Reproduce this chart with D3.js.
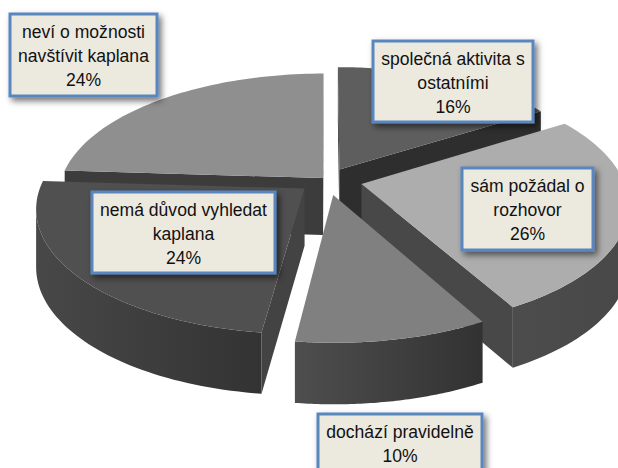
<!DOCTYPE html>
<html><head><meta charset="utf-8">
<script src="https://cdnjs.cloudflare.com/ajax/libs/d3/7.8.5/d3.min.js"></script>
<style>html,body{margin:0;padding:0;background:#fff;overflow:hidden}svg{display:block}
text{font-family:"Liberation Sans",Arial,sans-serif;fill:#111}</style></head><body>
<svg id="c" width="618" height="468"></svg>
<script>
const categories=["společná aktivita s ostatními","sám požádal o rozhovor","dochází pravidelně","nemá důvod vyhledat kaplana","neví o možnosti navštívit kaplana"];
const values=[16,26,10,24,24];
const labelLines=[["společná aktivita s","ostatními"],["sám požádal o","rozhovor"],["dochází pravidelně"],["nemá důvod vyhledat","kaplana"],["neví o možnosti","navštívit kaplana"]];
const explode=[0.1,0.135,0.124,0.11,0.022];
const topColors=["#5e5e5e","#adadad","#808080","#505050","#8f8f8f"];
const cutColors=["#2e2e2e","#484848","#3c3c3c","#434343","#3c3c3c"];
const wallColors=[["#333","#333"],["#4c4c4c","#484848"],["#4e4e4e","#323232"],["#484848","#333333"],["#3c3c3c","#3c3c3c"]];
const drawOrder=[4,0,1,3,2];
const boxes=[[373,41,160,81],[462,168,131,82],[318,414,164,60],[92,192,183,81],[10,14,147,82]];

const svg=d3.select("#c");
const defs=svg.append("defs");
const fl=defs.append("filter").attr("id","sh").attr("x","-20%").attr("y","-20%").attr("width","140%").attr("height","140%");
fl.append("feDropShadow").attr("dx",3).attr("dy",3.5).attr("stdDeviation",3).attr("flood-color","#000").attr("flood-opacity",.55);

const sx=d3.scaleLinear().domain([-1,1]).range([327-262,327+262]);
const sy=d3.scaleLinear().domain([-1,1]).range([180-120.7,180+120.7]);
const k=0.15;
function proj(u,v,down){
  const f=1/(1-k*v);
  return [sx(0)+(sx(u)-sx(0))*f, sy(0)+(sy(v)-sy(0))*f+(down?57+4*v:0)];
}
const arcs=d3.pie().sort(null).value(d=>d)(values);
const line=d3.line();
arcs.forEach((a,i)=>{
  const mid=(a.startAngle+a.endAngle)/2, e=explode[i];
  const ox=e*Math.sin(mid), oy=-e*Math.cos(mid);
  const angs=d3.range(0,61).map(j=>a.startAngle+(a.endAngle-a.startAngle)*j/60);
  a.rim=down=>angs.map(t=>proj(ox+Math.sin(t),oy-Math.cos(t),down));
  a.apex=down=>proj(ox,oy,down);
});
const g=svg.append("g");
drawOrder.forEach(i=>{
  const a=arcs[i], rimT=a.rim(false), rimB=a.rim(true), apT=a.apex(false), apB=a.apex(true);
  const last=rimT.length-1;
  const xs=rimT.map(p=>p[0]);
  const grad=defs.append("linearGradient").attr("id","w"+i).attr("gradientUnits","userSpaceOnUse")
    .attr("x1",d3.min(xs)).attr("x2",d3.max(xs)).attr("y1",0).attr("y2",0);
  grad.append("stop").attr("offset",0).attr("stop-color",wallColors[i][0]);
  grad.append("stop").attr("offset",1).attr("stop-color",wallColors[i][1]);
  const sl=g.append("g");
  // outer wall: the run of the rim that faces the viewer (x falling as the angle grows)
  const run=d3.range(0,last+1).filter(j=>(j<last&&rimT[j+1][0]<rimT[j][0])||(j>0&&rimT[j][0]<rimT[j-1][0]));
  if(run.length>1){
    const t=run.map(j=>rimT[j]), b=run.map(j=>rimB[j]).reverse();
    sl.append("path").attr("d",line(t.concat(b))+"Z").attr("fill",`url(#w${i})`);
  }
  // cut faces that face the viewer
  if(rimT[0][0]<apT[0]) sl.append("path").attr("d",line([apT,rimT[0],rimB[0],apB])+"Z").attr("fill",cutColors[i]);
  if(apT[0]<rimT[last][0]) sl.append("path").attr("d",line([apT,rimT[last],rimB[last],apB])+"Z").attr("fill",cutColors[i]);
  sl.append("path").attr("d",line([apT].concat(rimT))+"Z").attr("fill",topColors[i]);
});
const lab=svg.append("g");
values.forEach((v,i)=>{
  const [x,y,w,h]=boxes[i];
  const b=lab.append("g");
  b.append("rect").attr("x",x).attr("y",y).attr("width",w).attr("height",h)
    .attr("fill","#ece9df").attr("stroke","#5a86bf").attr("stroke-width",3).attr("filter","url(#sh)");
  const lines=labelLines[i].concat([v+"%"]);
  lines.forEach((t,j)=>{
    b.append("text").attr("transform",`translate(${x+w/2},${y+24+j*24})scale(.95,1)`).attr("text-anchor","middle").attr("font-size",18.5).text(t);
  });
});
</script></body></html>
